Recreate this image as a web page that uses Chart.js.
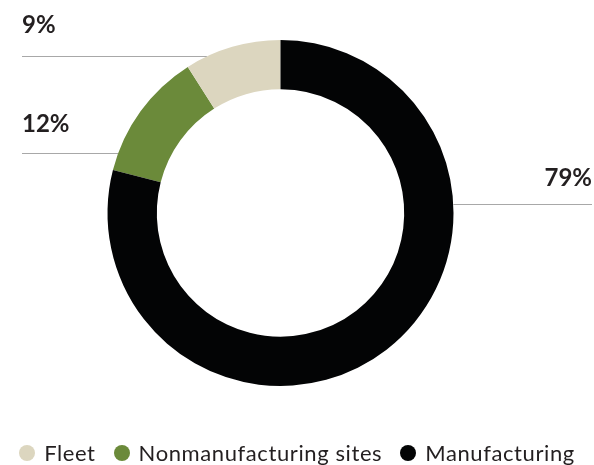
<!DOCTYPE html>
<html>
<head>
<meta charset="utf-8">
<script src="https://cdn.jsdelivr.net/npm/chart.js@4/dist/chart.umd.min.js"></script>
<style>
  html, body { margin: 0; padding: 0; background: #ffffff; }
  #wrap { position: relative; width: 594px; height: 465px; }
  #wrap canvas { position: absolute; left: 0; top: 0; }
  #legend {
    position: absolute; left: 0; right: 0; top: 439px;
    display: flex; justify-content: center; align-items: center;
    font-family: Lato, "Open Sans", sans-serif; font-size: 22px; letter-spacing: 0.6px; color: #231f20;
  }
  #legend .item { display: flex; align-items: center; margin: 0 9px; }
  #legend .dot { width: 16px; height: 16px; border-radius: 50%; margin-right: 9px; }
</style>
</head>
<body>
<div id="wrap">
  <canvas id="c" width="594" height="465"></canvas>
  <div id="legend"></div>
</div>
<script>
// Share of emissions by source (legend order)
const categories = ['Fleet', 'Nonmanufacturing sites', 'Manufacturing'];
const shares = [9, 12, 79];
const sliceColors = ['#dcd6bf', '#6b8a3a', '#030405'];
// Order of the slices clockwise around the ring
const ringOrder = [1, 0, 2];

const ringLabels = ringOrder.map(i => categories[i]);
const ringValues = ringOrder.map(i => shares[i]);
const ringColors = ringOrder.map(i => sliceColors[i]);

const total = shares.reduce((a, b) => a + b, 0);
// Manufacturing starts at 12 o'clock; the two small slices sit just to its left
const startAngle = -((ringValues[0] + ringValues[1]) / total) * 360;

// Percentage callouts with horizontal leader lines that stop at the ring's outer edge
const callouts = {
  id: 'callouts',
  afterDatasetsDraw(chart, args, opts) {
    const ctx = chart.ctx;
    const arc = chart.getDatasetMeta(0).data[0];
    const cx = arc.x, cy = arc.y, r = arc.outerRadius;
    ctx.save();
    opts.items.forEach(it => {
      const dy = it.y - cy;
      const half = Math.sqrt(Math.max(r * r - dy * dy, 0));
      ctx.strokeStyle = '#a8a8a8';
      ctx.lineWidth = 1;
      ctx.beginPath();
      if (it.side === 'left') {
        ctx.moveTo(opts.leftX, it.y);
        ctx.lineTo(cx - half, it.y);
      } else {
        ctx.moveTo(cx + half, it.y);
        ctx.lineTo(opts.rightX, it.y);
      }
      ctx.stroke();
      ctx.fillStyle = '#231f20';
      ctx.font = 'bold 24px Lato, "Open Sans", sans-serif';
      ctx.textBaseline = 'alphabetic';
      ctx.textAlign = it.side === 'left' ? 'left' : 'right';
      const label = shares[it.index] + '%';
      ctx.fillText(label, it.side === 'left' ? opts.leftX : opts.rightX, it.y - it.gap);
    });
    ctx.restore();
  }
};

new Chart(document.getElementById('c'), {
  type: 'doughnut',
  data: {
    labels: ringLabels,
    datasets: [{
      data: ringValues,
      backgroundColor: ringColors,
      borderWidth: 0,
      hoverOffset: 0
    }]
  },
  options: {
    responsive: false,
    animation: false,
    rotation: startAngle,
    cutout: '71.5%',
    layout: { padding: { top: 40, bottom: 79, left: 100, right: 133 } },
    plugins: {
      legend: { display: false },
      tooltip: { enabled: false },
      callouts: {
        leftX: 22,
        rightX: 592,
        items: [
          { index: 0, side: 'left', y: 56.5, gap: 24 },
          { index: 1, side: 'left', y: 153.5, gap: 22 },
          { index: 2, side: 'right', y: 204.5, gap: 19 }
        ]
      }
    }
  },
  plugins: [callouts]
});

// Legend row under the ring
const legendEl = document.getElementById('legend');
categories.forEach((name, i) => {
  const item = document.createElement('div');
  item.className = 'item';
  const dot = document.createElement('span');
  dot.className = 'dot';
  dot.style.background = sliceColors[i];
  const txt = document.createElement('span');
  txt.textContent = name;
  item.appendChild(dot);
  item.appendChild(txt);
  legendEl.appendChild(item);
});
</script>
</body>
</html>
